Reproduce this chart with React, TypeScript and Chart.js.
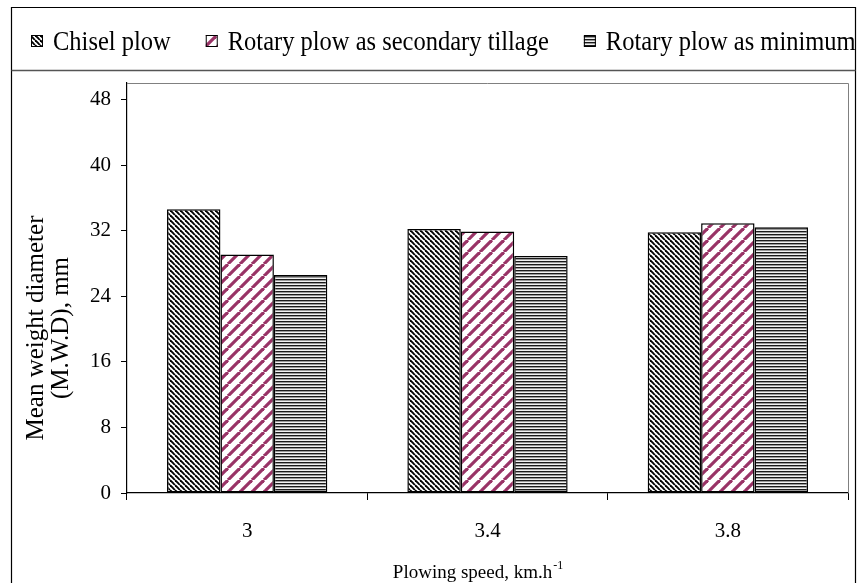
import React, { useEffect, useRef } from 'react';
import { Chart, registerables } from 'chart.js';

Chart.register(...registerables);

const categories = ['3', '3.4', '3.8'];
const seriesLabels = ['Chisel plow', 'Rotary plow as secondary tillage', 'Rotary plow as minimum tillage'];
const chiselPlow = [34.6, 32.2, 31.8];
const rotarySecondary = [29.1, 31.9, 32.9];
const rotaryMinimum = [26.6, 28.9, 32.4];
const yTicks = [0, 8, 16, 24, 32, 40, 48];
const yMin = 0;
const yMax = 50;
const yTitleLines = ['Mean weight diameter', '(M.W.D), mm'];
const xTitle = 'Plowing speed, km.h';
const xTitleSup = '-1';

const FONT = '"Liberation Serif", "Times New Roman", serif';

function makePattern(kind: string): CanvasPattern | string {
  const c = document.createElement('canvas');
  const ctx = c.getContext('2d');
  if (!ctx) return '#888';
  if (kind === 'chisel') {
    const s = 5;
    c.width = s; c.height = s;
    ctx.fillStyle = '#fff';
    ctx.fillRect(0, 0, s, s);
    ctx.strokeStyle = '#000';
    ctx.lineWidth = 1.9;
    for (const o of [-s, 0, s]) {
      ctx.beginPath();
      ctx.moveTo(o, 0);
      ctx.lineTo(o + s, s);
      ctx.stroke();
    }
  } else if (kind === 'rotary') {
    const s = 12;
    c.width = s; c.height = s;
    ctx.fillStyle = '#fff';
    ctx.fillRect(0, 0, s, s);
    ctx.strokeStyle = '#993366';
    ctx.lineWidth = 3.2;
    for (const o of [-s, 0, s]) {
      ctx.beginPath();
      ctx.moveTo(o, s);
      ctx.lineTo(o + s, 0);
      ctx.stroke();
    }
  } else {
    c.width = 2; c.height = 3;
    ctx.fillStyle = '#1a1a1a';
    ctx.fillRect(0, 0, 2, 1);
    ctx.fillStyle = '#9a9a9a';
    ctx.fillRect(0, 1, 2, 1);
    ctx.fillStyle = '#f2f2f2';
    ctx.fillRect(0, 2, 2, 1);
  }
  return ctx.createPattern(c, 'repeat') || '#888';
}

const decorPlugin = {
  id: 'decor',
  beforeDatasetsDraw(chart: any) {
    const { ctx, chartArea } = chart;
    ctx.save();
    ctx.strokeStyle = '#808080';
    ctx.lineWidth = 1;
    ctx.beginPath();
    ctx.moveTo(chartArea.left, chartArea.top + 0.5);
    ctx.lineTo(chartArea.right + 0.5, chartArea.top + 0.5);
    ctx.lineTo(chartArea.right + 0.5, chartArea.bottom);
    ctx.stroke();
    ctx.restore();
  },
  afterDraw(chart: any) {
    const { ctx } = chart;
    ctx.save();
    // outer frame
    ctx.strokeStyle = '#000';
    ctx.lineWidth = 1.2;
    ctx.beginPath();
    ctx.moveTo(11.5, 583);
    ctx.lineTo(11.5, 7.5);
    ctx.lineTo(855.5, 7.5);
    ctx.lineTo(855.5, 583);
    ctx.stroke();
    // legend separator
    ctx.strokeStyle = '#555';
    ctx.lineWidth = 1.5;
    ctx.beginPath();
    ctx.moveTo(11.5, 70.5);
    ctx.lineTo(855.5, 70.5);
    ctx.stroke();

    // legend
    ctx.save();
    ctx.beginPath();
    ctx.rect(12, 8, 843, 62);
    ctx.clip();
    ctx.font = '24.5px ' + FONT;
    ctx.textBaseline = 'alphabetic';
    ctx.textAlign = 'left';
    let x = 31;
    const iconSize = 12;
    const baseline = 50;
    chart.data.datasets.forEach((ds: any) => {
      ctx.fillStyle = ds.backgroundColor;
      ctx.fillRect(x, 35, iconSize, iconSize);
      ctx.strokeStyle = '#000';
      ctx.lineWidth = 1;
      ctx.strokeRect(x + 0.5, 35.5, iconSize - 1, iconSize - 1);
      ctx.fillStyle = '#000';
      const tx = x + iconSize + 10;
      ctx.save();
      ctx.translate(tx, baseline);
      ctx.scale(1, 1.12);
      ctx.fillText(ds.label, 0, 0);
      ctx.restore();
      x = tx + ctx.measureText(ds.label).width + 35;
    });
    ctx.restore();

    // y title
    ctx.font = '25px ' + FONT;
    ctx.fillStyle = '#000';
    ctx.textAlign = 'center';
    ctx.textBaseline = 'middle';
    const yCenters = [36, 61];
    yTitleLines.forEach((line, i) => {
      ctx.save();
      ctx.translate(yCenters[i], 328);
      ctx.rotate(-Math.PI / 2);
      ctx.fillText(line, 0, 0);
      ctx.restore();
    });

    // x title with superscript
    ctx.textAlign = 'left';
    ctx.textBaseline = 'alphabetic';
    ctx.font = '19px ' + FONT;
    const mainW = ctx.measureText(xTitle).width;
    ctx.font = '12px ' + FONT;
    const supW = ctx.measureText(xTitleSup).width;
    const center = 478;
    const start = center - (mainW + supW + 1) / 2;
    ctx.font = '19px ' + FONT;
    ctx.fillText(xTitle, start, 578);
    ctx.font = '12px ' + FONT;
    ctx.fillText(xTitleSup, start + mainW + 1, 569);
    ctx.restore();
  },
};

export default function App() {
  const ref = useRef<HTMLCanvasElement | null>(null);

  useEffect(() => {
    document.body.style.margin = '0';
    const canvas = ref.current;
    if (!canvas) return;
    const patterns = [makePattern('chisel'), makePattern('rotary'), makePattern('minimum')];
    const values = [chiselPlow, rotarySecondary, rotaryMinimum];
    const tickFont = { family: FONT, size: 21 };
    const chart = new Chart(canvas, {
      type: 'bar',
      data: {
        labels: categories,
        datasets: values.map((v, i) => ({
          label: seriesLabels[i],
          data: v,
          backgroundColor: patterns[i] as any,
          borderColor: '#000',
          borderWidth: 1.5,
          borderSkipped: false,
          categoryPercentage: 0.667,
          barPercentage: 1,
        })),
      },
      options: {
        animation: false,
        responsive: false,
        maintainAspectRatio: false,
        devicePixelRatio: 1,
        layout: { padding: { left: 0, right: 11, top: 83, bottom: 0 } },
        plugins: {
          legend: { display: false },
          tooltip: { enabled: false },
          title: { display: false },
        },
        scales: {
          x: {
            grid: {
              offset: true,
              drawOnChartArea: false,
              drawTicks: true,
              tickLength: 7,
              color: '#000',
              tickColor: '#000',
            },
            border: { color: '#000', width: 1.2 },
            ticks: { font: tickFont, color: '#000', padding: 19, maxRotation: 0 },
            afterFit: (s: any) => { s.height = 90; },
          },
          y: {
            min: yMin,
            max: yMax,
            afterBuildTicks: (s: any) => { s.ticks = yTicks.map((v) => ({ value: v })); },
            grid: {
              drawOnChartArea: false,
              drawTicks: true,
              tickLength: 6,
              color: '#000',
              tickColor: '#000',
            },
            border: { color: '#000', width: 1.2 },
            ticks: { font: tickFont, color: '#000', padding: 10 },
            afterFit: (s: any) => { s.width = 127; },
          },
        },
      },
      plugins: [decorPlugin],
    });
    return () => chart.destroy();
  }, []);

  return (
    <div style={{ width: 859, height: 583, background: '#fff' }}>
      <canvas ref={ref} width={859} height={583} style={{ display: 'block', width: 859, height: 583 }} />
    </div>
  );
}
